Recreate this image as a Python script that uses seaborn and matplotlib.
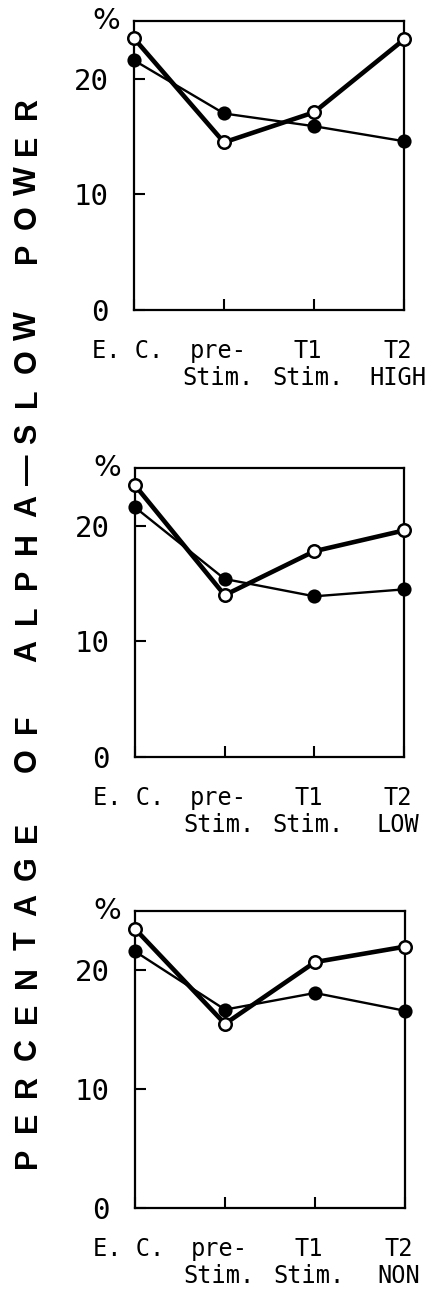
import numpy as np
import pandas as pd
import seaborn as sns
import matplotlib.pyplot as plt
import matplotlib.transforms as mtransforms

# stage positions along the x axis
stages = ["E. C.", "pre-\nStim.", "T1\nStim."]
conditions = ["HIGH", "LOW", "NON"]

# open circles (thick line) and filled circles (thin line), % of alpha-slow power
open_high = [23.5, 14.5, 17.1, 23.4]
filled_high = [21.6, 17.0, 15.9, 14.6]
open_low = [23.5, 14.0, 17.8, 19.6]
filled_low = [21.6, 15.4, 13.9, 14.5]
open_non = [23.5, 15.5, 20.7, 22.0]
filled_non = [21.6, 16.7, 18.1, 16.6]

open_series = [open_high, open_low, open_non]
filled_series = [filled_high, filled_low, filled_non]

yticks = [0, 10, 20]
ylabel_text = "PERCENTAGE OF ALPHA—SLOW POWER"

sns.set_style("ticks")
plt.rcParams["font.family"] = ["DejaVu Sans Mono", "DejaVu Sans"]
plt.rcParams["text.color"] = "black"
plt.rcParams["xtick.color"] = "black"
plt.rcParams["ytick.color"] = "black"

W, H = 441, 1294
fig = plt.figure(figsize=(W / 100, H / 100), dpi=100)

# axes boxes in pixels: left, top, right, bottom
boxes = [(134, 21, 404, 310), (135, 468, 404, 757), (135, 911, 405, 1208)]

x = np.arange(4)
for i, (l, t, r, b) in enumerate(boxes):
    ax = fig.add_axes([l / W, 1 - b / H, (r - l) / W, (b - t) / H])
    df = pd.DataFrame({"x": x, "filled": filled_series[i], "open": open_series[i]})
    sns.lineplot(data=df, x="x", y="filled", ax=ax, color="black", lw=1.7,
                 marker="o", markersize=9, markerfacecolor="black",
                 markeredgecolor="black", markeredgewidth=1.2, zorder=3)
    sns.lineplot(data=df, x="x", y="open", ax=ax, color="black", lw=3.3,
                 marker="o", markersize=9, markerfacecolor="white",
                 markeredgecolor="black", markeredgewidth=1.8, zorder=4)
    for m in ax.lines:
        m.set_clip_on(False)
    ax.set_xlim(0, 3)
    ax.set_ylim(0, 25)
    ax.set_xticks(x)
    ax.set_xticklabels(stages + ["T2\n" + conditions[i]], fontsize=17,
                       linespacing=1.15)
    ax.set_yticks(yticks)
    ax.set_yticklabels([str(v) for v in yticks], fontsize=21)
    ax.tick_params(direction="in", length=8, width=1.5, color="black")
    ax.tick_params(axis="y", pad=18)
    ax.tick_params(axis="x", pad=21)
    shift = mtransforms.ScaledTranslation(-6 / 100, 0, fig.dpi_scale_trans)
    for lab in ax.get_xticklabels():
        lab.set_transform(lab.get_transform() + shift)
    for s in ax.spines.values():
        s.set_linewidth(1.6)
        s.set_color("black")
    ax.set_xlabel("")
    ax.set_ylabel("")
    ax.annotate("%", xy=(0, 1), xycoords="axes fraction", xytext=(-20, 0),
                textcoords="offset points", ha="center", va="center",
                fontsize=21, family=["DejaVu Sans"])

# spaced vertical label on the left
start, pitch = 1158, 36.2
for k, ch in enumerate(ylabel_text):
    if ch == " ":
        continue
    fig.text(28 / W, 1 - (start - k * pitch) / H, ch, rotation=90,
             ha="center", va="center", fontsize=22, fontweight="bold",
             family=["Liberation Sans", "DejaVu Sans"])

fig.savefig("out.png", dpi=100, facecolor="white")
